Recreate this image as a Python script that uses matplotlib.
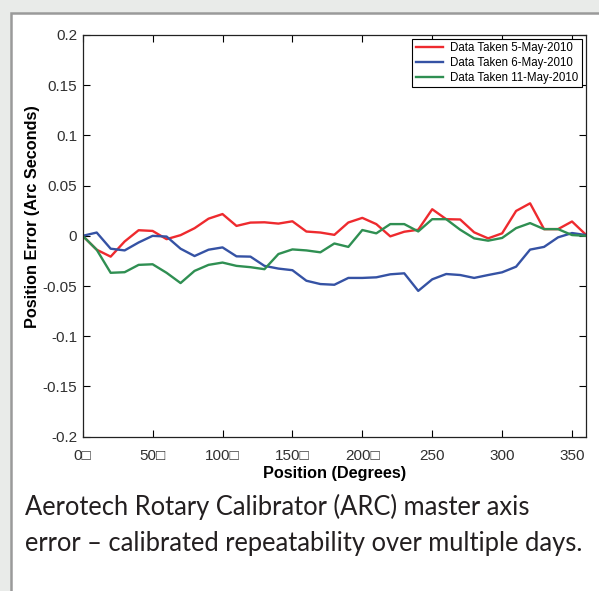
import matplotlib
matplotlib.use("Agg")
import matplotlib.pyplot as plt
from matplotlib.patches import Rectangle

plt.rcParams['axes.unicode_minus'] = False
plt.rcParams['font.family'] = ['Liberation Sans', 'DejaVu Sans']

# position error vs table position, three calibration days
deg = list(range(0, 361, 10))

may5 = [0, -0.0138, -0.0207, -0.0056, 0.0056, 0.0049, -0.0033, 0.0007, 0.0076, 0.0171,
        0.0217, 0.0099, 0.0132, 0.0135, 0.0122, 0.0145, 0.0043, 0.0033, 0.001, 0.0133,
        0.0179, 0.0117, -0.0005, 0.0041, 0.0061, 0.0265, 0.0166, 0.0163, 0.0035, -0.0025,
        0.0025, 0.0248, 0.0324, 0.0067, 0.0067, 0.0143, 0.001]

may6 = [0, 0.0033, -0.0128, -0.0145, -0.0066, 0, -0.0007, -0.0128, -0.0201, -0.0138,
        -0.0115, -0.0204, -0.0207, -0.0299, -0.0326, -0.0342, -0.0447, -0.048, -0.0487, -0.0419,
        -0.0419, -0.0413, -0.0383, -0.0373, -0.0548, -0.0433, -0.038, -0.039, -0.0419, -0.039,
        -0.0363, -0.0307, -0.0137, -0.011, -0.0015, 0.0028, 0.0008]

may11 = [0, -0.0138, -0.0368, -0.0362, -0.0289, -0.0283, -0.0368, -0.047, -0.0349, -0.0289,
         -0.0266, -0.0299, -0.0312, -0.0332, -0.0181, -0.0135, -0.0145, -0.0164, -0.0076, -0.011,
         0.0058, 0.0025, 0.0117, 0.0117, 0.0044, 0.0166, 0.0166, 0.0061, -0.0025, -0.0048,
         -0.0021, 0.0077, 0.0127, 0.0067, 0.0067, 0.0008, 0.0]

labels = ["Data Taken 5-May-2010", "Data Taken 6-May-2010", "Data Taken 11-May-2010"]
colors = ["#ee2a2e", "#3552a4", "#2f8f52"]

xticks = [0, 50, 100, 150, 200, 250, 300, 350]
xticklabels = ["0\u25a1", "50\u25a1", "100\u25a1", "150\u25a1", "200\u25a1", "250", "300", "350"]
yticks = [-0.2, -0.15, -0.1, -0.05, 0, 0.05, 0.1, 0.15, 0.2]

caption = ["Aerotech Rotary Calibrator (ARC) master axis",
           "error \u2013 calibrated repeatability over multiple days."]

fig = plt.figure(figsize=(5.99, 5.91), dpi=100, facecolor="#e9ebe9")
# white page panel behind the plot
fig.patches.append(Rectangle((10.5 / 599, -0.05), 1.1, 1 - 12.5 / 591 + 0.05,
                             transform=fig.transFigure, facecolor="white",
                             edgecolor="#9a9a9a", linewidth=1.8, zorder=-5))

ax = fig.add_axes([82.7 / 599, 1 - 436.7 / 591, (586 - 82.7) / 599, (436.7 - 35) / 591])
ax.set_zorder(2)
for y, c, lab in zip([may5, may6, may11], colors, labels):
    ax.plot(deg, y, color=c, lw=1.7, label=lab)

ax.set_xlim(0, 360)
ax.set_ylim(-0.2, 0.2)
ax.set_xticks(xticks)
ax.set_xticklabels(xticklabels)
ax.set_yticks(yticks)
ax.set_yticklabels(["%g" % v for v in yticks])
ax.tick_params(direction="in", top=True, right=True, length=5, width=0.8,
               labelsize=11, labelcolor="#303030")
ax.tick_params(axis="x", pad=9)
ax.tick_params(axis="y", pad=4)
for s in ax.spines.values():
    s.set_linewidth(0.9)
    s.set_color("#222222")

ax.set_xlabel("Position (Degrees)", fontsize=11.7, fontweight="bold", labelpad=2)
ax.set_ylabel("Position Error (Arc Seconds)", fontsize=11.7, fontweight="bold")
ax.yaxis.set_label_coords(-0.085, 0.549)

leg = ax.legend(loc="upper right", fontsize=8.3, handlelength=2.4, labelspacing=0.22,
                borderpad=0.3, borderaxespad=0.35, fancybox=False, framealpha=1,
                edgecolor="black", handletextpad=0.6)
leg.get_frame().set_linewidth(0.8)

fig.text(25 / 599, 1 - 515 / 591, caption[0], fontsize=18.4, family="Lato",
         color="#231f20", va="baseline", zorder=3)
fig.text(25 / 599, 1 - 551 / 591, caption[1], fontsize=18.4, family="Lato",
         color="#231f20", va="baseline", zorder=3)

fig.savefig("out.png", dpi=100, facecolor=fig.get_facecolor())
